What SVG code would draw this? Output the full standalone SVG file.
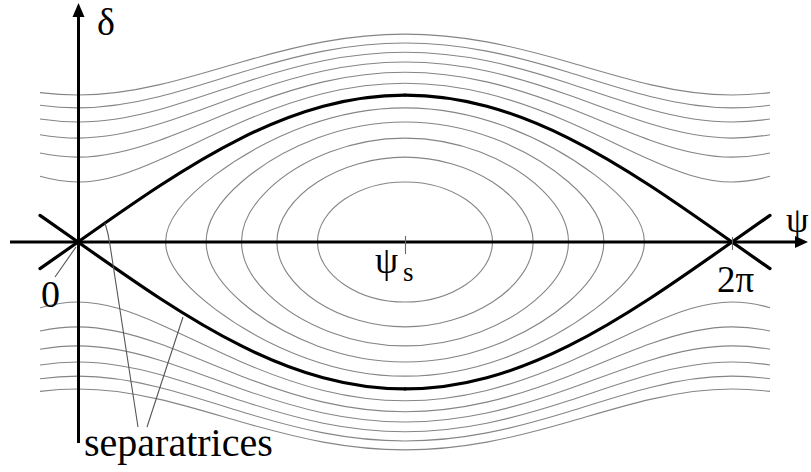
<svg xmlns="http://www.w3.org/2000/svg" width="811" height="472" viewBox="0 0 811 472">
<style>
.orbit{fill:none;stroke:#858585;stroke-width:1.1}
.sep{fill:none;stroke:#000;stroke-width:3.2;stroke-linecap:round}
.axis{fill:none;stroke:#000;stroke-width:3}
.ptr{fill:none;stroke:#555;stroke-width:1.1}
.tick{stroke:#666;stroke-width:1.1}
.lbl{fill:#000}
</style>
<defs>
<g id="qgray">
<path class="orbit" d="M405,83.25 C432.25,83.25 459.5,86.82 486.75,93.55 C514,100.28 541.25,110.22 568.5,122 C595.75,133.78 623,147.61 650.25,159.76 C677.5,171.92 704.75,182 732,182 C744.67,182 757.33,179.91 770,176.34"/>
<path class="orbit" d="M405,72.29 C432.25,72.29 459.5,75.64 486.75,81.88 C514,88.12 541.25,97.30 568.5,107.84 C595.75,118.38 623,130.38 650.25,140.20 C677.5,150.02 704.75,157.15 732,157.15 C744.67,157.15 757.33,155.69 770,153.05"/>
<path class="orbit" d="M405,62 C432.25,62 459.5,65.16 486.75,71.01 C514,76.86 541.25,85.41 568.5,95.03 C595.75,104.65 623,115.38 650.25,123.84 C677.5,132.30 704.75,138.08 732,138.08 C744.67,138.08 757.33,136.90 770,134.71"/>
<path class="orbit" d="M405,52.26 C432.25,52.26 459.5,55.27 486.75,60.79 C514,66.31 541.25,74.35 568.5,83.25 C595.75,92.16 623,101.93 650.25,109.47 C677.5,117.01 704.75,122 732,122 C744.67,122 757.33,120.98 770,119.07"/>
<path class="orbit" d="M405,43 C432.25,43 459.5,45.88 486.75,51.12 C514,56.36 541.25,63.96 568.5,72.29 C595.75,80.62 623,89.65 650.25,96.52 C677.5,103.39 704.75,107.84 732,107.84 C744.67,107.84 757.33,106.93 770,105.21"/>
<path class="orbit" d="M405,34.15 C432.25,34.15 459.5,36.91 486.75,41.91 C514,46.91 541.25,54.15 568.5,62 C595.75,69.85 623,78.29 650.25,84.64 C677.5,90.99 704.75,95.03 732,95.03 C744.67,95.03 757.33,94.20 770,92.63"/>
<path class="orbit" d="M405,107.84 C438.17,107.84 471.39,114.10 503.67,125.81 C535.95,137.52 567.72,154.64 594.80,174.92 C621.88,195.20 644.44,218.58 644.44,242"/>
<path class="orbit" d="M405,122 C434.66,122 464.40,127.61 492.54,138.08 C520.68,148.55 547.52,163.86 568.5,182 C589.48,200.14 603.87,221.06 603.87,242"/>
<path class="orbit" d="M405,138.08 C430.69,138.08 456.45,142.93 480.23,152 C504.01,161.07 525.95,174.33 542.20,190.04 C558.45,205.75 568.5,223.86 568.5,242"/>
<path class="orbit" d="M405,157.15 C436.47,157.15 468.17,166.29 492.54,182 C516.91,197.71 533.13,219.79 533.13,242"/>
<path class="orbit" d="M405,182 C427.25,182 449.53,188.46 465.96,199.57 C482.39,210.68 492.54,226.29 492.54,242"/>
</g>
<path id="qsep" class="sep" d="M405,95.03 C432.25,95.03 459.5,98.86 486.75,106.22 C514,113.58 541.25,124.48 568.5,138.08 C595.75,151.68 623,167.99 650.25,185.76 C677.5,203.53 704.75,222.76 732,242 C744.67,250.94 757.33,259.89 770,268.68"/>
</defs>
<g id="orbits">
<use href="#qgray"/>
<use href="#qgray" transform="matrix(-1 0 0 1 810 0)"/>
<use href="#qgray" transform="matrix(1 0 0 -1 0 484)"/>
<use href="#qgray" transform="matrix(-1 0 0 -1 810 484)"/>
</g>
<g id="separatrices">
<use href="#qsep"/>
<use href="#qsep" transform="matrix(-1 0 0 1 810 0)"/>
<use href="#qsep" transform="matrix(1 0 0 -1 0 484)"/>
<use href="#qsep" transform="matrix(-1 0 0 -1 810 484)"/>
</g>
<g id="axes">
<line class="axis" x1="10" y1="242" x2="798" y2="242"/>
<polygon points="808,242 795,236 795,248" fill="#000"/>
<line class="axis" x1="78.5" y1="443" x2="78.5" y2="14"/>
<polygon points="78.5,3 72.5,17 84.5,17" fill="#000"/>
<line class="tick" x1="405.5" y1="236" x2="405.5" y2="254"/>
<line class="tick" x1="732.5" y1="237" x2="732.5" y2="250"/>
</g>
<g id="pointers">
<path class="ptr" d="M105,223 Q108.5,234 110,245 L138,427"/>
<path class="ptr" d="M183,317 L147,427"/>
<path class="ptr" d="M55,277 L76,247"/>
</g>
<g id="labels" font-family="Liberation Serif, Times New Roman, serif">
<text class="lbl" x="97" y="35" font-size="38">δ</text>
<text class="lbl" x="786" y="232" font-size="36">ψ</text>
<text class="lbl" x="375" y="273" font-size="37">ψ</text>
<text class="lbl" x="403" y="281" font-size="27">s</text>
<text class="lbl" x="41" y="307" font-size="38">0</text>
<text class="lbl" x="717" y="292" font-size="37">2π</text>
<text class="lbl" x="84" y="456" font-size="40">separatrices</text>
</g>
</svg>
